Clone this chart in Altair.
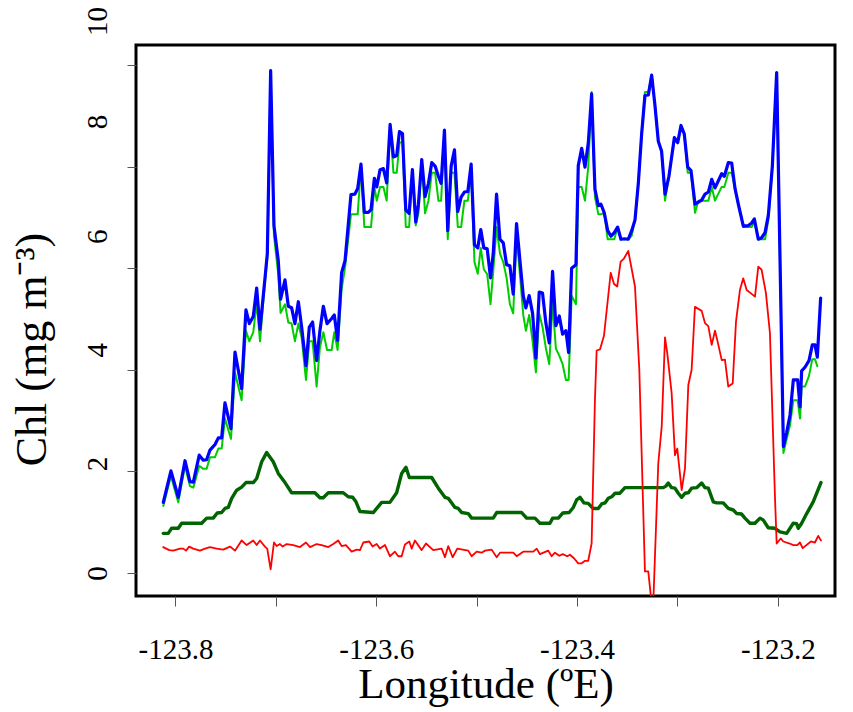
import altair as alt
import pandas as pd

# Shared longitudes for the blue (thick) and light-green (thin) series
BG_LON = [
    -123.8121, -123.8045, -123.7972, -123.7905, -123.7856, -123.7822, -123.7763, -123.7723, -123.7690, -123.7656,
    -123.7606, -123.7573, -123.7540, -123.7507, -123.7447, -123.7407, -123.7341, -123.7298, -123.7264, -123.7225,
    -123.7191, -123.7158, -123.7108, -123.7085, -123.7052, -123.7019, -123.6976, -123.6953, -123.6909, -123.6876,
    -123.6843, -123.6810, -123.6776, -123.6743, -123.6700, -123.6667, -123.6634, -123.6594, -123.6561, -123.6527,
    -123.6490, -123.6444, -123.6418, -123.6385, -123.6345, -123.6311, -123.6252, -123.6212, -123.6185, -123.6152,
    -123.6119, -123.6079, -123.6052, -123.6019, -123.5995, -123.5962, -123.5929, -123.5896, -123.5862, -123.5829,
    -123.5796, -123.5769, -123.5739, -123.5706, -123.5673, -123.5640, -123.5607, -123.5580, -123.5547, -123.5514,
    -123.5480, -123.5447, -123.5414, -123.5381, -123.5354, -123.5321, -123.5288, -123.5254, -123.5221, -123.5188,
    -123.5155, -123.5122, -123.5088, -123.5055, -123.5022, -123.4989, -123.4959, -123.4929, -123.4895, -123.4862,
    -123.4835, -123.4802, -123.4768, -123.4735, -123.4702, -123.4669, -123.4636, -123.4603, -123.4569, -123.4536,
    -123.4510, -123.4477, -123.4443, -123.4410, -123.4377, -123.4344, -123.4310, -123.4277, -123.4244, -123.4211,
    -123.4177, -123.4144, -123.4111, -123.4084, -123.4054, -123.4011, -123.3988, -123.3954, -123.3921, -123.3888,
    -123.3855, -123.3822, -123.3788, -123.3762, -123.3729, -123.3695, -123.3662, -123.3629, -123.3596, -123.3563,
    -123.3529, -123.3490, -123.3456, -123.3423, -123.3390, -123.3357, -123.3324, -123.3290, -123.3257, -123.3224,
    -123.3191, -123.3158, -123.3124, -123.3085, -123.3031, -123.2998, -123.2965, -123.2932, -123.2898, -123.2865,
    -123.2825, -123.2792, -123.2759, -123.2725, -123.2692, -123.2659, -123.2626, -123.2560, -123.2533, -123.2493,
    -123.2460, -123.2427, -123.2394, -123.2344, -123.2294, -123.2261, -123.2234, -123.2195, -123.2161, -123.2128,
    -123.2095, -123.2055, -123.2012, -123.1945, -123.1912, -123.1879, -123.1846, -123.1803, -123.1779, -123.1763,
    -123.1730, -123.1690, -123.1657, -123.1630, -123.1607, -123.1574,
]

BLUE = [
    1.39, 2.01, 1.49, 2.21, 1.80, 1.79, 2.32, 2.22, 2.23, 2.42,
    2.53, 2.66, 2.66, 3.35, 2.84, 4.35, 3.63, 5.18, 4.91, 5.05,
    5.61, 4.80, 5.81, 6.29, 9.89, 6.84, 6.15, 5.39, 5.77, 5.25,
    5.22, 4.91, 5.34, 4.84, 4.08, 4.84, 4.94, 4.18, 4.77, 5.25,
    4.91, 5.01, 5.08, 4.58, 5.91, 6.15, 7.45, 7.46, 7.57, 8.05,
    7.10, 7.10, 7.15, 7.77, 7.60, 7.94, 7.96, 7.68, 8.83, 8.19,
    8.22, 8.69, 8.65, 7.15, 7.08, 7.94, 6.91, 7.26, 8.14, 7.41,
    7.67, 8.08, 8.01, 7.81, 7.67, 8.72, 6.74, 8.01, 8.33, 7.12,
    7.40, 7.50, 7.51, 8.05, 6.46, 6.40, 6.76, 6.40, 6.38, 5.81,
    6.29, 7.46, 6.57, 6.50, 6.07, 6.05, 5.49, 6.88, 6.15, 5.46,
    5.22, 5.46, 5.11, 4.23, 5.53, 5.51, 4.91, 4.53, 5.94, 4.87,
    5.06, 4.70, 4.77, 4.34, 6.00, 6.07, 8.02, 8.36, 7.99, 8.47,
    9.43, 7.56, 7.23, 7.26, 7.09, 6.74, 6.63, 6.70, 6.81, 6.57,
    6.58, 6.57, 6.74, 6.95, 7.67, 8.64, 9.40, 9.41, 9.80, 9.20,
    8.50, 8.30, 7.46, 7.81, 8.57, 8.47, 8.81, 8.64, 7.99, 7.92,
    7.26, 7.30, 7.34, 7.46, 7.50, 7.75, 7.58, 7.86, 7.81, 8.08,
    8.07, 7.57, 7.26, 6.83, 6.84, 6.89, 6.97, 6.57, 6.60, 6.70,
    7.04, 8.01, 9.85, 2.49, 2.77, 3.11, 3.80, 3.80, 3.27, 3.98,
    4.05, 4.18, 4.49, 4.49, 4.25, 5.41,
]

LGREEN = [
    1.32, 1.91, 1.39, 2.11, 1.71, 1.68, 2.11, 2.05, 2.05, 2.28,
    2.28, 2.45, 2.45, 3.04, 2.64, 3.94, 3.40, 4.77, 4.56, 4.74,
    5.32, 4.56, 5.74, 6.22, 9.89, 6.64, 5.88, 5.12, 5.29, 4.93,
    4.91, 4.56, 4.91, 4.63, 3.80, 4.56, 4.56, 3.67, 4.45, 4.74,
    4.39, 4.39, 4.74, 4.39, 5.59, 6.01, 7.06, 7.06, 7.06, 8.01,
    6.81, 6.81, 6.81, 7.60, 7.33, 7.60, 7.60, 7.33, 8.81, 7.88,
    7.88, 8.46, 8.50, 6.81, 6.81, 7.88, 6.84, 7.08, 8.08, 7.08,
    7.33, 7.88, 7.88, 7.33, 7.33, 8.67, 6.57, 7.88, 7.88, 6.81,
    6.81, 7.33, 7.33, 7.88, 6.12, 5.89, 6.40, 5.98, 5.88, 5.29,
    5.94, 6.81, 6.29, 6.12, 5.81, 5.29, 5.11, 6.64, 5.88, 5.08,
    4.77, 5.08, 4.56, 3.95, 5.11, 4.84, 4.42, 4.11, 5.32, 4.42,
    4.28, 4.11, 3.80, 3.80, 5.46, 5.29, 7.60, 7.60, 7.33, 8.01,
    9.47, 7.40, 7.06, 7.06, 7.09, 6.57, 6.57, 6.57, 6.81, 6.57,
    6.57, 6.57, 6.64, 6.95, 7.67, 8.64, 9.47, 9.47, 9.80, 9.20,
    8.50, 8.30, 7.33, 7.81, 8.57, 8.47, 8.81, 8.64, 7.88, 7.88,
    7.09, 7.33, 7.33, 7.33, 7.33, 7.60, 7.33, 7.60, 7.60, 7.88,
    7.88, 7.57, 7.26, 6.81, 6.81, 6.81, 6.91, 6.57, 6.57, 6.57,
    6.95, 8.01, 9.85, 2.36, 2.64, 2.91, 3.40, 3.40, 3.04, 3.67,
    3.67, 3.88, 4.21, 4.21, 4.07, None,
]

# Dark green (thick) series
DG_LON = [
    -123.8122, -123.8072, -123.8038, -123.7972, -123.7938, -123.7739, -123.7689, -123.7624, -123.7584, -123.7540,
    -123.7507, -123.7474, -123.7440, -123.7390, -123.7341, -123.7298, -123.7225, -123.7191, -123.7141, -123.7092,
    -123.7026, -123.6976, -123.6909, -123.6843, -123.6611, -123.6561, -123.6528, -123.6478, -123.6329, -123.6279,
    -123.6235, -123.6202, -123.6162, -123.6030, -123.5946, -123.5864, -123.5797, -123.5747, -123.5704, -123.5671,
    -123.5448, -123.5382, -123.5316, -123.5283, -123.5216, -123.5183, -123.5149, -123.5084, -123.5050, -123.4835,
    -123.4801, -123.4552, -123.4502, -123.4419, -123.4370, -123.4270, -123.4243, -123.4187, -123.4143, -123.4078,
    -123.4038, -123.4004, -123.3971, -123.3931, -123.3889, -123.3839, -123.3789, -123.3755, -123.3722, -123.3689,
    -123.3655, -123.3622, -123.3573, -123.3523, -123.3141, -123.3115, -123.3092, -123.3058, -123.3025, -123.2992,
    -123.2958, -123.2925, -123.2892, -123.2859, -123.2809, -123.2759, -123.2726, -123.2693, -123.2643, -123.2610,
    -123.2544, -123.2494, -123.2444, -123.2410, -123.2361, -123.2328, -123.2278, -123.2228, -123.2178, -123.2145,
    -123.2096, -123.2029, -123.1979, -123.1912, -123.1847, -123.1813, -123.1797, -123.1763, -123.1713, -123.1648,
    -123.1571,
]
DGREEN = [
    0.78, 0.78, 0.88, 0.88, 0.98, 0.98, 1.08, 1.08, 1.18, 1.19,
    1.27, 1.29, 1.47, 1.63, 1.69, 1.78, 1.78, 1.86, 2.19, 2.37,
    2.19, 1.96, 1.78, 1.58, 1.58, 1.48, 1.48, 1.58, 1.58, 1.50,
    1.49, 1.40, 1.21, 1.19, 1.39, 1.39, 1.58, 1.96, 2.08, 1.88,
    1.88, 1.67, 1.49, 1.47, 1.29, 1.27, 1.19, 1.17, 1.08, 1.08,
    1.19, 1.19, 1.08, 1.08, 0.98, 0.98, 1.08, 1.08, 1.18, 1.19,
    1.29, 1.44, 1.49, 1.38, 1.37, 1.27, 1.27, 1.36, 1.38, 1.47,
    1.50, 1.57, 1.57, 1.68, 1.68, 1.71, 1.77, 1.68, 1.67, 1.57,
    1.49, 1.57, 1.58, 1.67, 1.68, 1.77, 1.68, 1.67, 1.40, 1.38,
    1.38, 1.27, 1.24, 1.17, 1.16, 1.08, 0.98, 0.98, 1.08, 1.04,
    0.89, 0.88, 0.81, 0.78, 0.98, 0.97, 0.88, 0.98, 1.17, 1.40,
    1.78,
]

# Red (thin) series
RED_LON = [
    -123.8122, -123.8062, -123.8022, -123.7955, -123.7922, -123.7895, -123.7863, -123.7823, -123.7756, -123.7706,
    -123.7656, -123.7590, -123.7524, -123.7457, -123.7407, -123.7341, -123.7291, -123.7225, -123.7191, -123.7158,
    -123.7109, -123.7086, -123.7052, -123.7019, -123.6992, -123.6959, -123.6932, -123.6892, -123.6827, -123.6760,
    -123.6700, -123.6660, -123.6594, -123.6544, -123.6478, -123.6428, -123.6379, -123.6345, -123.6302, -123.6245,
    -123.6195, -123.6162, -123.6129, -123.6070, -123.6036, -123.5996, -123.5963, -123.5913, -123.5864, -123.5814,
    -123.5781, -123.5747, -123.5714, -123.5671, -123.5647, -123.5615, -123.5548, -123.5505, -123.5432, -123.5349,
    -123.5316, -123.5283, -123.5239, -123.5193, -123.5084, -123.5050, -123.5000, -123.4950, -123.4917, -123.4851,
    -123.4801, -123.4768, -123.4635, -123.4602, -123.4536, -123.4436, -123.4402, -123.4370, -123.4287, -123.4253,
    -123.4220, -123.4177, -123.4143, -123.4098, -123.4071, -123.4031, -123.3988, -123.3954, -123.3921, -123.3889,
    -123.3855, -123.3822, -123.3805, -123.3772, -123.3732, -123.3665, -123.3632, -123.3600, -123.3566, -123.3533,
    -123.3490, -123.3423, -123.3380, -123.3324, -123.3291, -123.3257, -123.3241, -123.3191, -123.3157, -123.3124,
    -123.3101, -123.3058, -123.3025, -123.3002, -123.2958, -123.2925, -123.2892, -123.2859, -123.2826, -123.2759,
    -123.2726, -123.2693, -123.2659, -123.2626, -123.2603, -123.2559, -123.2527, -123.2494, -123.2450, -123.2417,
    -123.2378, -123.2345, -123.2311, -123.2271, -123.2228, -123.2195, -123.2162, -123.2119, -123.2079, -123.2029,
    -123.2012, -123.1972, -123.1946, -123.1882, -123.1847, -123.1807, -123.1780, -123.1753, -123.1671, -123.1631,
    -123.1598, -123.1571,
]
RED = [
    0.51, 0.45, 0.44, 0.48, 0.48, 0.44, 0.52, 0.48, 0.44, 0.48,
    0.51, 0.48, 0.46, 0.52, 0.44, 0.64, 0.55, 0.64, 0.55, 0.64,
    0.52, 0.48, 0.07, 0.60, 0.53, 0.57, 0.52, 0.57, 0.55, 0.51,
    0.60, 0.51, 0.57, 0.55, 0.51, 0.57, 0.64, 0.53, 0.55, 0.42,
    0.46, 0.45, 0.60, 0.62, 0.52, 0.57, 0.48, 0.55, 0.33, 0.42,
    0.33, 0.33, 0.56, 0.62, 0.48, 0.64, 0.45, 0.58, 0.45, 0.48,
    0.31, 0.53, 0.31, 0.48, 0.44, 0.33, 0.42, 0.40, 0.44, 0.46,
    0.31, 0.40, 0.40, 0.33, 0.42, 0.42, 0.48, 0.37, 0.44, 0.33,
    0.40, 0.34, 0.37, 0.33, 0.36, 0.29, 0.19, 0.19, 0.24, 0.24,
    0.58, 3.40, 4.38, 4.40, 4.67, 5.91, 5.69, 5.64, 6.13, 6.19,
    6.34, 5.64, 4.00, 0.03, 0.03, -0.60, -0.60, 2.16, 2.88, 4.64,
    4.32, 3.54, 2.32, 2.45, 1.63, 2.06, 3.70, 4.00, 5.24, 5.16,
    4.92, 4.86, 4.49, 4.77, 4.58, 4.19, 4.20, 3.67, 3.73, 4.95,
    5.57, 5.80, 5.57, 5.51, 5.44, 6.03, 5.97, 5.51, 4.72, 1.50,
    0.58, 0.68, 0.62, 0.58, 0.55, 0.55, 0.60, 0.49, 0.62, 0.60,
    0.73, 0.64,
]

X_TICKS = [-123.8, -123.7, -123.6, -123.5, -123.4, -123.3, -123.2]
Y_TICKS = [0, 2, 4, 6, 8, 10]
Y_LABEL_SHIFT = [0, -8, -20, -32, -45, -44]   # reference draws y labels drifting upward

FONT = "Liberation Serif"

x_enc = alt.X(
    "lon:Q",
    scale=alt.Scale(domain=[-123.8393, -123.1431], nice=False, zero=False),
    axis=alt.Axis(
        values=X_TICKS,
        labelExpr="round(datum.value * 10) % 2 == 0 ? '-' + format(abs(datum.value), '.1f') : ''",
        title="Longitude (ºE)",
        titleFont=FONT, titleFontSize=43, titleFontWeight="normal", titleColor="black",
        titleBaseline="alphabetic", titleY=101,
        labelFont=FONT, labelFontSize=29, labelColor="black",
        labelBaseline="alphabetic", labelPadding=52, labelFlush=False,
        tickSize=10, tickColor="#555555", tickWidth=1, domain=False, grid=False,
    ),
)

offset_conditions = [
    {"test": f"datum.value == {v}", "value": s} for v, s in zip(Y_TICKS, Y_LABEL_SHIFT)
]

y_enc = alt.Y(
    "chl:Q",
    scale=alt.Scale(domain=[-0.453, 10.394], nice=False, zero=False),
    axis=alt.Axis(
        values=Y_TICKS,
        labelExpr="format(datum.value, 'd')",
        title="Chl (mg m⁻³)",
        titleFont=FONT, titleFontSize=44, titleFontWeight="normal", titleColor="black",
        titleAngle=270, titleAlign="center", titleBaseline="alphabetic",
        titleX=-91, titleY=304,
        labelFont=FONT, labelFontSize=29, labelColor="black",
        labelAngle=270, labelAlign="center", labelBaseline="alphabetic",
        labelPadding=21, labelFlush=False,
        labelOffset={"condition": offset_conditions, "value": 0},
        tickSize=9, tickColor="#555555", tickWidth=1, domain=False, grid=False,
    ),
)


def series(lons, vals, color, width):
    df = pd.DataFrame({"lon": lons, "chl": vals}).dropna()
    return alt.Chart(df).mark_line(
        color=color, strokeWidth=width, clip=True, strokeJoin="round", strokeCap="round"
    ).encode(x=x_enc, y=y_enc)


chart = alt.layer(
    series(BG_LON, LGREEN, "#00CD00", 2.0),
    series(BG_LON, BLUE, "#0000FF", 3.2),
    series(DG_LON, DGREEN, "#006400", 3.4),
    series(RED_LON, RED, "#FF0000", 1.8),
).properties(
    width=699,
    height=551,
    autosize=alt.AutoSizeParams(type="none"),
    padding={"left": 128, "top": 37, "right": 10, "bottom": 112},
    background="white",
).configure_view(
    stroke="black", strokeWidth=3
)

chart.save("out.html", embed_options={"renderer": "svg", "actions": False})
